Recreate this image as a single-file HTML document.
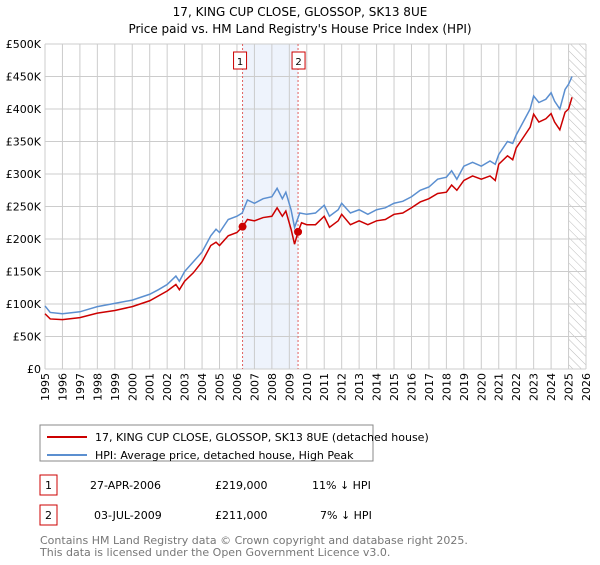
<!DOCTYPE html>
<html><head><meta charset="utf-8"><style>
body{margin:0;background:#fff;font-family:"Liberation Sans","DejaVu Sans",sans-serif;}
svg text{font-family:"DejaVu Sans","Liberation Sans",sans-serif;}
</style></head><body>
<svg id="c" width="600" height="560" viewBox="0 0 600 560" xmlns="http://www.w3.org/2000/svg">
<defs><pattern id="hatch" width="6" height="6" patternUnits="userSpaceOnUse" patternTransform="rotate(-45)"><line x1="0" y1="0" x2="0" y2="6" stroke="#bbb" stroke-width="1"/></pattern></defs>
<text x="300" y="16" text-anchor="middle" font-size="12" fill="#000">17, KING CUP CLOSE, GLOSSOP, SK13 8UE</text>
<text x="300" y="33" text-anchor="middle" font-size="12" fill="#000">Price paid vs. HM Land Registry's House Price Index (HPI)</text>
<g id="grid"></g><g id="marks"></g><g id="axes"></g>
<rect x="40" y="425" width="333" height="36" fill="#fff" stroke="#888"/>
<line x1="47" y1="437" x2="87" y2="437" stroke="#cc0000" stroke-width="2"/>
<text x="95" y="441" font-size="11">17, KING CUP CLOSE, GLOSSOP, SK13 8UE (detached house)</text>
<line x1="47" y1="455" x2="87" y2="455" stroke="#5b8fd0" stroke-width="2"/>
<text x="95" y="459" font-size="11">HPI: Average price, detached house, High Peak</text>
<g font-size="11">
<rect x="40" y="475" width="17" height="20" fill="#fff" stroke="#cc0000"/>
<text x="48.5" y="489" text-anchor="middle">1</text>
<text x="90" y="489">27-APR-2006</text><text x="215" y="489">£219,000</text><text x="312" y="489">11% ↓ HPI</text>
<rect x="40" y="505" width="17" height="20" fill="#fff" stroke="#cc0000"/>
<text x="48.5" y="519" text-anchor="middle">2</text>
<text x="94" y="519">03-JUL-2009</text><text x="215" y="519">£211,000</text><text x="320" y="519">7% ↓ HPI</text>
</g>
<text x="40" y="544" font-size="11" fill="#777">Contains HM Land Registry data © Crown copyright and database right 2025.</text>
<text x="40" y="556" font-size="11" fill="#777">This data is licensed under the Open Government Licence v3.0.</text>
</svg>
<script>
const yTicks=[0,50,100,150,200,250,300,350,400,450,500];
const yTickLabels=["£0","£50K","£100K","£150K","£200K","£250K","£300K","£350K","£400K","£450K","£500K"];
const xTicks=[1995,1996,1997,1998,1999,2000,2001,2002,2003,2004,2005,2006,2007,2008,2009,2010,2011,2012,2013,2014,2015,2016,2017,2018,2019,2020,2021,2022,2023,2024,2025,2026];
const hpiT=[1995,1995.3,1996,1997,1997.5,1998,1999,2000,2001,2001.5,2002,2002.5,2002.7,2003,2003.5,2004,2004.5,2004.8,2005,2005.5,2006,2006.3,2006.6,2007,2007.5,2008,2008.3,2008.6,2008.8,2009.1,2009.3,2009.6,2010,2010.5,2011,2011.3,2011.8,2012,2012.5,2013,2013.5,2014,2014.5,2015,2015.5,2016,2016.5,2017,2017.5,2018,2018.3,2018.6,2019,2019.5,2020,2020.5,2020.8,2021,2021.5,2021.8,2022,2022.5,2022.8,2023,2023.3,2023.7,2024,2024.2,2024.5,2024.8,2025,2025.2];
const hpiV=[97,87,85,88,92,96,101,106,115,122,130,143,135,150,165,180,205,215,210,230,235,240,260,255,262,265,278,262,272,245,218,240,238,240,252,235,245,255,240,245,238,245,248,255,258,265,275,280,292,295,305,292,312,318,312,320,315,330,350,347,360,385,400,420,410,415,425,412,400,430,438,450];
const priceT=[1995,1995.3,1996,1997,1998,1999,2000,2001,2002,2002.5,2002.7,2003,2003.5,2004,2004.5,2004.8,2005,2005.5,2006,2006.32,2006.6,2007,2007.5,2008,2008.3,2008.6,2008.8,2009.1,2009.3,2009.5,2009.7,2010,2010.5,2011,2011.3,2011.8,2012,2012.5,2013,2013.5,2014,2014.5,2015,2015.5,2016,2016.5,2017,2017.5,2018,2018.3,2018.6,2019,2019.5,2020,2020.5,2020.8,2021,2021.5,2021.8,2022,2022.5,2022.8,2023,2023.3,2023.7,2024,2024.2,2024.5,2024.8,2025,2025.2];
const priceV=[85,77,76,79,86,90,96,105,120,130,122,135,148,165,190,195,190,205,210,219,230,228,233,235,248,235,243,215,192,211,225,222,222,235,218,228,238,222,228,222,228,230,238,240,248,257,262,270,272,283,275,290,297,292,297,290,315,328,322,340,360,372,392,380,385,393,380,368,395,400,418];
const saleT=[2006.32,2009.5];
const saleV=[219,211];
const X0=45,X1=586,Y0=369,Y1=44;
const x=t=>X0+(t-1995)*(X1-X0)/31;
const y=v=>Y0-v*(Y0-Y1)/500;
const NS="http://www.w3.org/2000/svg";
function mk(tag,attrs,parent,text){const e=document.createElementNS(NS,tag);for(const k in attrs)e.setAttribute(k,attrs[k]);if(text!==undefined)e.textContent=text;document.getElementById(parent).appendChild(e);return e;}
let sh=mk('rect',{x:x(saleT[0]),y:Y1,width:x(saleT[1])-x(saleT[0]),height:Y0-Y1,fill:'#eef3fc'},'grid');


let hz=mk('rect',{x:x(2025),y:Y1,width:X1-x(2025),height:Y0-Y1,fill:'url(#hatch)'},'grid');


xTicks.forEach(t=>{
 let g=mk('line',{x1:x(t),y1:Y1,x2:x(t),y2:Y0,stroke:'#ccc','stroke-width':1},'grid');
 
 
 let lx=x(t)+4, ly=Y0+4;
 let l=mk('text',{x:lx,y:ly,'text-anchor':'end','font-size':11,transform:'rotate(-90 '+lx+' '+ly+')'},'axes',String(t));
 
 
});
yTicks.forEach((v,i)=>{
 let g=mk('line',{x1:X0,y1:y(v),x2:X1,y2:y(v),stroke:'#ccc','stroke-width':1},'grid');
 
 
 let l=mk('text',{x:X0-4,y:y(v)+4,'text-anchor':'end','font-size':11},'axes',yTickLabels[i]);
 
 
});
saleT.forEach((t,i)=>{
 let l=mk('line',{x1:x(t),y1:Y1,x2:x(t),y2:Y0,stroke:'#e06060','stroke-width':1,'stroke-dasharray':'2,2'},'marks');
 
 
 let b=mk('rect',{x:x(t)-6-(i==0?3:0),y:52,width:13,height:17,fill:'#fff',stroke:'#cc0000'},'marks');
 
 
 let tx=mk('text',{x:x(t)+0.5-(i==0?3:0),y:65,'text-anchor':'middle','font-size':10},'marks',String(i+1));
 
 
});
let hp=mk('polyline',{points:hpiT.map((t,i)=>x(t)+','+y(hpiV[i])).join(' '),fill:'none',stroke:'#5b8fd0','stroke-width':1.5},'marks');


let pp=mk('polyline',{points:priceT.map((t,i)=>x(t)+','+y(priceV[i])).join(' '),fill:'none',stroke:'#cc0000','stroke-width':1.5},'marks');


saleT.forEach((t,i)=>{
 let c=mk('circle',{cx:x(t),cy:y(saleV[i]),r:4,fill:'#cc0000'},'marks');
 
 
});
</script>
</body></html>
